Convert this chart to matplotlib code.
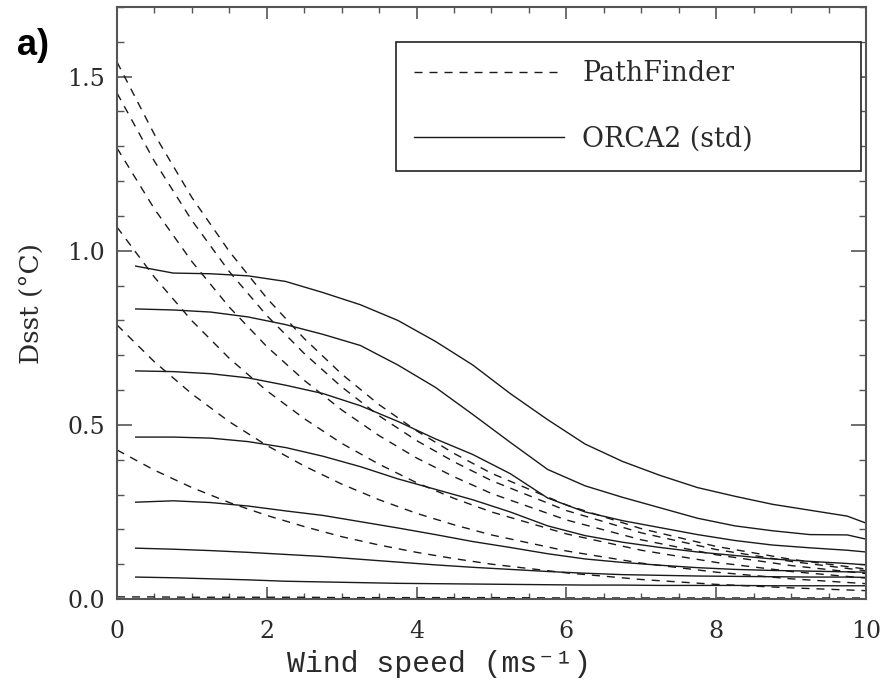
import matplotlib.pyplot as plt

# ---------------------------------------------------------------
# Data
# ---------------------------------------------------------------
# ORCA2 (std): model bins, centred every 0.5 m/s
orca_wind = [0.25, 0.75, 1.25, 1.75, 2.25, 2.75, 3.25, 3.75, 4.25, 4.75, 5.25,
             5.75, 6.25, 6.75, 7.25, 7.75, 8.25, 8.75, 9.25, 9.75, 10.0]

orca_1 = [0.956, 0.936, 0.934, 0.928, 0.912, 0.880, 0.845, 0.800, 0.740, 0.672, 0.590,
          0.515, 0.445, 0.395, 0.355, 0.320, 0.295, 0.272, 0.255, 0.238, 0.218]
orca_2 = [0.833, 0.830, 0.824, 0.810, 0.788, 0.760, 0.728, 0.672, 0.608, 0.530, 0.450,
          0.372, 0.325, 0.292, 0.262, 0.232, 0.210, 0.196, 0.185, 0.184, 0.172]
orca_3 = [0.655, 0.653, 0.647, 0.635, 0.614, 0.590, 0.555, 0.510, 0.460, 0.415, 0.360,
          0.290, 0.250, 0.225, 0.205, 0.185, 0.168, 0.155, 0.147, 0.140, 0.135]
orca_4 = [0.465, 0.465, 0.462, 0.452, 0.435, 0.410, 0.380, 0.345, 0.315, 0.285, 0.250,
          0.210, 0.182, 0.163, 0.148, 0.135, 0.125, 0.115, 0.108, 0.102, 0.098]
orca_5 = [0.278, 0.282, 0.277, 0.267, 0.253, 0.240, 0.222, 0.204, 0.185, 0.165, 0.148,
          0.130, 0.115, 0.105, 0.097, 0.090, 0.085, 0.082, 0.080, 0.078, 0.077]
orca_6 = [0.146, 0.143, 0.139, 0.134, 0.128, 0.122, 0.114, 0.106, 0.098, 0.091, 0.085,
          0.079, 0.074, 0.070, 0.068, 0.066, 0.065, 0.064, 0.063, 0.063, 0.062]
orca_7 = [0.063, 0.061, 0.058, 0.055, 0.051, 0.049, 0.047, 0.045, 0.044, 0.043, 0.042,
          0.041, 0.040, 0.040, 0.039, 0.039, 0.039, 0.038, 0.038, 0.038, 0.038]

# PathFinder parametrisation
pf_wind = [0, 0.5, 1, 1.5, 2, 2.5, 3, 3.5, 4, 4.5, 5, 6, 7, 8, 9, 10]

pf_1 = [1.542, 1.334, 1.153, 0.998, 0.864, 0.748, 0.646, 0.558, 0.483, 0.418, 0.361,
        0.270, 0.202, 0.151, 0.114, 0.086]
pf_2 = [1.453, 1.257, 1.087, 0.940, 0.814, 0.705, 0.609, 0.526, 0.455, 0.394, 0.340,
        0.254, 0.190, 0.142, 0.108, 0.081]
pf_3 = [1.295, 1.120, 0.969, 0.838, 0.725, 0.628, 0.543, 0.469, 0.405, 0.351, 0.303,
        0.227, 0.170, 0.127, 0.096, 0.073]
pf_4 = [1.068, 0.924, 0.799, 0.691, 0.598, 0.518, 0.447, 0.387, 0.334, 0.289, 0.250,
        0.187, 0.140, 0.105, 0.079, 0.060]
pf_5 = [0.787, 0.681, 0.589, 0.509, 0.441, 0.382, 0.330, 0.285, 0.246, 0.213, 0.184,
        0.138, 0.103, 0.077, 0.058, 0.044]
pf_6 = [0.428, 0.370, 0.320, 0.277, 0.240, 0.208, 0.179, 0.155, 0.134, 0.116, 0.100,
        0.075, 0.056, 0.042, 0.032, 0.024]
pf_7 = [0.006, 0.006, 0.005, 0.005, 0.005, 0.005, 0.004, 0.004, 0.004, 0.004, 0.004,
        0.003, 0.003, 0.003, 0.003, 0.003]

x_ticks = [0, 2, 4, 6, 8, 10]
y_ticks = [0.0, 0.5, 1.0, 1.5]

# ---------------------------------------------------------------
# Style
# ---------------------------------------------------------------
serif = "DejaVu Serif"
mono = ["Liberation Mono", "DejaVu Sans Mono"]
line_color = "#1a1a1a"
axis_color = "#555555"
text_color = "#2a2a2a"

fig = plt.figure(figsize=(8.83, 6.82), dpi=100)
ax = fig.add_axes([0.1325, 0.1217, 0.8482, 0.868])

for k, vals in enumerate([pf_1, pf_2, pf_3, pf_4, pf_5, pf_6, pf_7]):
    ax.plot(pf_wind, vals, color=line_color, linewidth=1.0,
            dashes=(5.8, 5.0), label="PathFinder" if k == 0 else None)

for k, vals in enumerate([orca_1, orca_2, orca_3, orca_4, orca_5, orca_6, orca_7]):
    ax.plot(orca_wind, vals, color=line_color, linewidth=1.0,
            label="ORCA2 (std)" if k == 0 else None)

ax.set_xlim(0, 10)
ax.set_ylim(0, 1.7)

ax.set_xticks(x_ticks)
ax.set_xticks([i * 0.5 for i in range(21)], minor=True)
ax.set_yticks(y_ticks)
ax.set_yticks([i * 0.1 for i in range(18)], minor=True)
ax.set_xticklabels([str(t) for t in x_ticks], fontfamily=serif, fontsize=17)
ax.set_yticklabels([f"{t:.1f}" for t in y_ticks], fontfamily=serif, fontsize=17)

ax.tick_params(axis="both", which="both", direction="in", top=True, right=True,
               color=axis_color, labelcolor=text_color)
ax.tick_params(axis="x", which="major", length=8.6, width=1.2, pad=15)
ax.tick_params(axis="x", which="minor", length=4.3, width=1.0)
ax.tick_params(axis="y", which="major", length=10.8, width=1.2, pad=8.5)
ax.tick_params(axis="y", which="minor", length=5.0, width=1.0)

for s in ax.spines.values():
    s.set_color(axis_color)
    s.set_linewidth(1.5)

# IDL-style x title: wide monospace, sitting a little left of centre
ax.set_xlabel("Wind speed (ms\u207b\u00b9)", fontfamily=mono, fontsize=21.5,
              color=text_color, va="center")
ax.xaxis.set_label_coords(0.43, -0.11)
ax.set_ylabel("Dsst (°C)", fontfamily=serif, fontsize=19, color=text_color, labelpad=17)

leg = ax.legend(loc="upper left", bbox_to_anchor=(0.373, 0.704, 0.62, 0.237),
                mode="expand", borderaxespad=0, borderpad=0.67, labelspacing=1.44,
                handlelength=5.55, handletextpad=0.67, fancybox=False,
                framealpha=1, prop={"family": serif, "size": 19.4})
leg.get_frame().set_edgecolor("#222222")
leg.get_frame().set_linewidth(1.2)
for t in leg.get_texts():
    t.set_color(text_color)

fig.text(0.019, 0.934, "a)", fontfamily="Liberation Sans", fontweight="bold",
         fontsize=26, ha="left", va="center")

fig.savefig("out.png", dpi=100)
